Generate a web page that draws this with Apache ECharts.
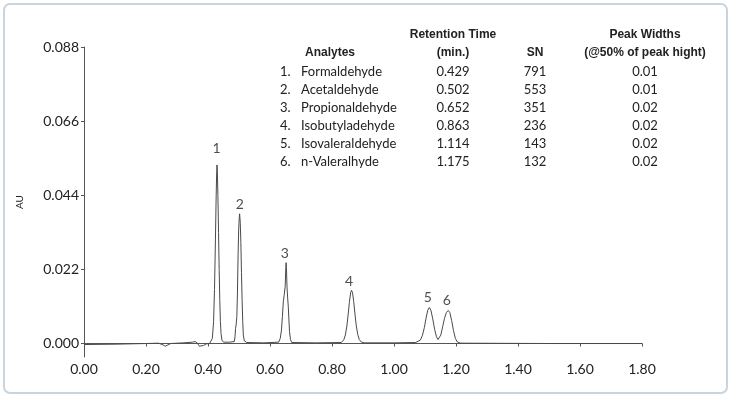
<!DOCTYPE html>
<html>
<head>
<meta charset="utf-8">
<script src="https://cdn.jsdelivr.net/npm/echarts@6/dist/echarts.min.js"></script>
<style>
  html, body { margin: 0; padding: 0; background: #fff; }
  #chart { width: 732px; height: 397px; }
</style>
</head>
<body>
<div id="chart"></div>
<script>
// table data
var analytes = ['Formaldehyde', 'Acetaldehyde', 'Propionaldehyde', 'Isobutyladehyde', 'Isovaleraldehyde', 'n-Valeralhyde'];
var retTimes = ['0.429', '0.502', '0.652', '0.863', '1.114', '1.175'];
var snValues = ['791', '553', '351', '236', '143', '132'];
var peakWidths = ['0.01', '0.01', '0.02', '0.02', '0.02', '0.02'];

// peak number labels (time, AU)
var peakLabelX = [0.428, 0.503, 0.648, 0.855, 1.109, 1.170];
var peakLabelY = [0.0578, 0.0412, 0.0267, 0.0184, 0.0136, 0.0127];

var yTicks = [0, 0.022, 0.044, 0.066, 0.088];

// chromatogram trace: [min, AU]
var trace = [
  [0.000, -0.0003], [0.100, -0.0002], [0.200, 0.0000], [0.240, 0.0001],
  [0.255, -0.0004], [0.262, -0.0008], [0.268, -0.0003], [0.280, 0.0000],
  [0.320, 0.0002], [0.350, 0.0004], [0.358, 0.0006], [0.365, 0.0002],
  [0.372, -0.0008], [0.378, -0.0010], [0.385, -0.0006], [0.395, -0.0001],
  [0.405, 0.0000], [0.410, 0.0003], [0.414, 0.0015], [0.418, 0.0065],
  [0.421, 0.0160], [0.424, 0.0310], [0.426, 0.0420], [0.428, 0.0510],
  [0.429, 0.0530], [0.430, 0.0515], [0.432, 0.0440], [0.434, 0.0330],
  [0.436, 0.0220], [0.438, 0.0130], [0.440, 0.0065], [0.442, 0.0030],
  [0.445, 0.0010], [0.450, 0.0004], [0.470, 0.0004], [0.485, 0.0006],
  [0.487, 0.0020], [0.489, 0.0045], [0.491, 0.0058], [0.493, 0.0080],
  [0.495, 0.0150], [0.497, 0.0260], [0.499, 0.0340], [0.501, 0.0375],
  [0.502, 0.0385], [0.504, 0.0360], [0.506, 0.0300], [0.508, 0.0210],
  [0.510, 0.0130], [0.512, 0.0065], [0.514, 0.0025], [0.517, 0.0008],
  [0.525, 0.0003], [0.580, 0.0002], [0.628, 0.0004], [0.633, 0.0015],
  [0.637, 0.0040], [0.640, 0.0080], [0.643, 0.0125], [0.646, 0.0145],
  [0.649, 0.0170], [0.651, 0.0225], [0.652, 0.0240], [0.653, 0.0225],
  [0.655, 0.0165], [0.657, 0.0135], [0.659, 0.0110], [0.661, 0.0070],
  [0.663, 0.0035], [0.666, 0.0012], [0.670, 0.0003], [0.750, 0.0002],
  [0.830, 0.0003], [0.838, 0.0011], [0.843, 0.0025], [0.848, 0.0052],
  [0.852, 0.0085], [0.856, 0.0122], [0.860, 0.0150], [0.863, 0.0158],
  [0.866, 0.0152], [0.870, 0.0125], [0.874, 0.0088], [0.878, 0.0055],
  [0.883, 0.0027], [0.888, 0.0012], [0.895, 0.0004], [0.905, 0.0002],
  [1.000, 0.0002], [1.070, 0.0003], [1.085, 0.0010], [1.092, 0.0025],
  [1.098, 0.0048], [1.104, 0.0078], [1.109, 0.0099], [1.114, 0.0107],
  [1.119, 0.0099], [1.125, 0.0073], [1.131, 0.0042], [1.137, 0.0020],
  [1.142, 0.0012], [1.146, 0.0013], [1.151, 0.0025], [1.157, 0.0050],
  [1.163, 0.0075], [1.169, 0.0092], [1.175, 0.0098], [1.180, 0.0092],
  [1.186, 0.0068], [1.192, 0.0038], [1.198, 0.0015], [1.204, 0.0005],
  [1.215, 0.0001], [1.500, 0.0000], [1.800, 0.0000]
];

var txt = '#222';
var font = 'Lato, "Open Sans", sans-serif';

// table as graphic texts
var headStyle = { fill: txt, font: 'bold 12px "Liberation Sans Narrow", "Liberation Sans", sans-serif', align: 'center', verticalAlign: 'middle' };
var cellStyle = { fill: txt, font: '13px ' + font, verticalAlign: 'middle' };
var table = [
  { type: 'text', x: 453, y: 35, style: Object.assign({ text: 'Retention Time' }, headStyle) },
  { type: 'text', x: 645, y: 35, style: Object.assign({ text: 'Peak Widths' }, headStyle) },
  { type: 'text', x: 330, y: 53, style: Object.assign({ text: 'Analytes' }, headStyle) },
  { type: 'text', x: 453, y: 53, style: Object.assign({ text: '(min.)' }, headStyle) },
  { type: 'text', x: 535, y: 53, style: Object.assign({ text: 'SN' }, headStyle) },
  { type: 'text', x: 645, y: 53, style: Object.assign({ text: '(@50% of peak hight)' }, headStyle) }
];
for (var i = 0; i < analytes.length; i++) {
  var ry = 72 + i * 18;
  table.push({ type: 'text', x: 280, y: ry, style: Object.assign({ text: (i + 1) + '.' }, cellStyle) });
  table.push({ type: 'text', x: 301, y: ry, style: Object.assign({ text: analytes[i] }, cellStyle) });
  table.push({ type: 'text', x: 453, y: ry, style: Object.assign({ text: retTimes[i], align: 'center' }, cellStyle) });
  table.push({ type: 'text', x: 535, y: ry, style: Object.assign({ text: snValues[i], align: 'center' }, cellStyle) });
  table.push({ type: 'text', x: 645, y: ry, style: Object.assign({ text: peakWidths[i], align: 'center' }, cellStyle) });
}
// frame round the picture
table.push({
  type: 'rect', shape: { x: 4, y: 4, width: 723, height: 389, r: 6 },
  style: { fill: 'none', stroke: '#c8d5de', lineWidth: 2 }, z: -1
});

var chart = echarts.init(document.getElementById('chart'));
chart.setOption({
  backgroundColor: '#fff',
  animation: false,
  grid: { left: 84, right: 90, top: 47, bottom: 40 },
  xAxis: {
    type: 'value',
    min: 0,
    max: 1.8,
    interval: 0.2,
    axisLine: { lineStyle: { color: '#555', width: 1 } },
    axisTick: { show: true, length: 3, lineStyle: { color: '#555' } },
    axisLabel: { color: txt, fontFamily: font, fontSize: 14, margin: 5,
      formatter: function (v) { return v.toFixed(2); } },
    splitLine: { show: false }
  },
  yAxis: {
    type: 'value',
    min: -0.004,
    max: 0.088,
    name: 'AU',
    nameLocation: 'middle',
    nameGap: 59,
    nameTextStyle: { color: txt, fontFamily: font, fontSize: 10 },
    axisLine: { show: true, lineStyle: { color: '#555', width: 1 } },
    axisTick: { show: true, length: 3, customValues: yTicks, lineStyle: { color: '#555' } },
    axisLabel: { color: txt, fontFamily: font, fontSize: 14, margin: 5, customValues: yTicks,
      formatter: function (v) { return v.toFixed(3); } },
    splitLine: { show: false }
  },
  graphic: table,
  series: [
    {
      type: 'line',
      data: trace,
      showSymbol: false,
      lineStyle: { color: '#4a4a4a', width: 1 }
    },
    {
      type: 'scatter',
      symbolSize: 1,
      itemStyle: { color: 'rgba(0,0,0,0)' },
      data: peakLabelX.map(function (x, i) { return [x, peakLabelY[i]]; }),
      label: {
        show: true,
        position: 'inside',
        color: txt,
        fontFamily: font,
        fontSize: 14,
        formatter: function (p) { return String(p.dataIndex + 1); }
      }
    }
  ]
});
</script>
</body>
</html>
